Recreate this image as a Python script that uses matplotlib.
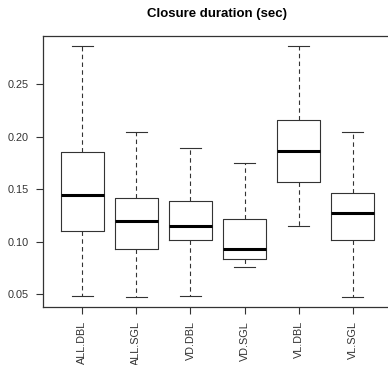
import matplotlib
matplotlib.use("Agg")
import matplotlib.pyplot as plt

# five-number summaries per condition (closure duration, seconds)
groups = ["ALL.DBL", "ALL.SGL", "VD.DBL", "VD.SGL", "VL.DBL", "VL.SGL"]
whisker_lo = [0.0488, 0.0475, 0.0488, 0.0760, 0.1146, 0.0475]
q1 = [0.1103, 0.0934, 0.1017, 0.0836, 0.1568, 0.1017]
median = [0.1448, 0.1201, 0.1153, 0.0934, 0.1869, 0.1270]
q3 = [0.1854, 0.1416, 0.1388, 0.1217, 0.2164, 0.1464]
whisker_hi = [0.2864, 0.2047, 0.1897, 0.1749, 0.2864, 0.2047]

plt.rcParams["font.family"] = ["Liberation Sans", "DejaVu Sans"]
ink = "#333333"

fig = plt.figure(figsize=(3.88, 3.65), dpi=100)
# plot region runs past the right edge of the canvas
ax = fig.add_axes([42.5 / 388, 58 / 365, 350 / 388, 271 / 365])

stats = []
for name, lo, a, m, b, hi in zip(groups, whisker_lo, q1, median, q3, whisker_hi):
    stats.append({"label": name, "whislo": lo, "q1": a, "med": m,
                  "q3": b, "whishi": hi, "fliers": []})

line = dict(color=ink, linewidth=0.8)
ax.bxp(stats, positions=range(1, len(groups) + 1), widths=0.8, capwidths=0.4,
       showfliers=False,
       boxprops=line,
       medianprops=dict(color="black", linewidth=2.2, solid_capstyle="butt"),
       whiskerprops=dict(color=ink, linewidth=0.8, linestyle=(0, (4, 3))),
       capprops=line)

lo_all, hi_all = min(whisker_lo), max(whisker_hi)
span = hi_all - lo_all
ax.set_ylim(lo_all - 0.04 * span, hi_all + 0.04 * span)
ax.set_xlim(0.26, 6.74)

ax.set_yticks([0.05, 0.10, 0.15, 0.20, 0.25])
ax.set_yticklabels(["0.05", "0.10", "0.15", "0.20", "0.25"])
ax.set_xticks(range(1, len(groups) + 1))
ax.set_xticklabels(groups, rotation=90)
ax.tick_params(axis="both", colors=ink, labelcolor=ink, labelsize=7.8,
               length=5, width=0.8, pad=5)

for s in ax.spines.values():
    s.set_color(ink)
    s.set_linewidth(0.9)

fig.text(216.7 / 388, (365 - 17) / 365, "Closure duration (sec)",
         ha="center", va="baseline", fontsize=9.5, fontweight="bold")

fig.savefig("out.png", dpi=100)
